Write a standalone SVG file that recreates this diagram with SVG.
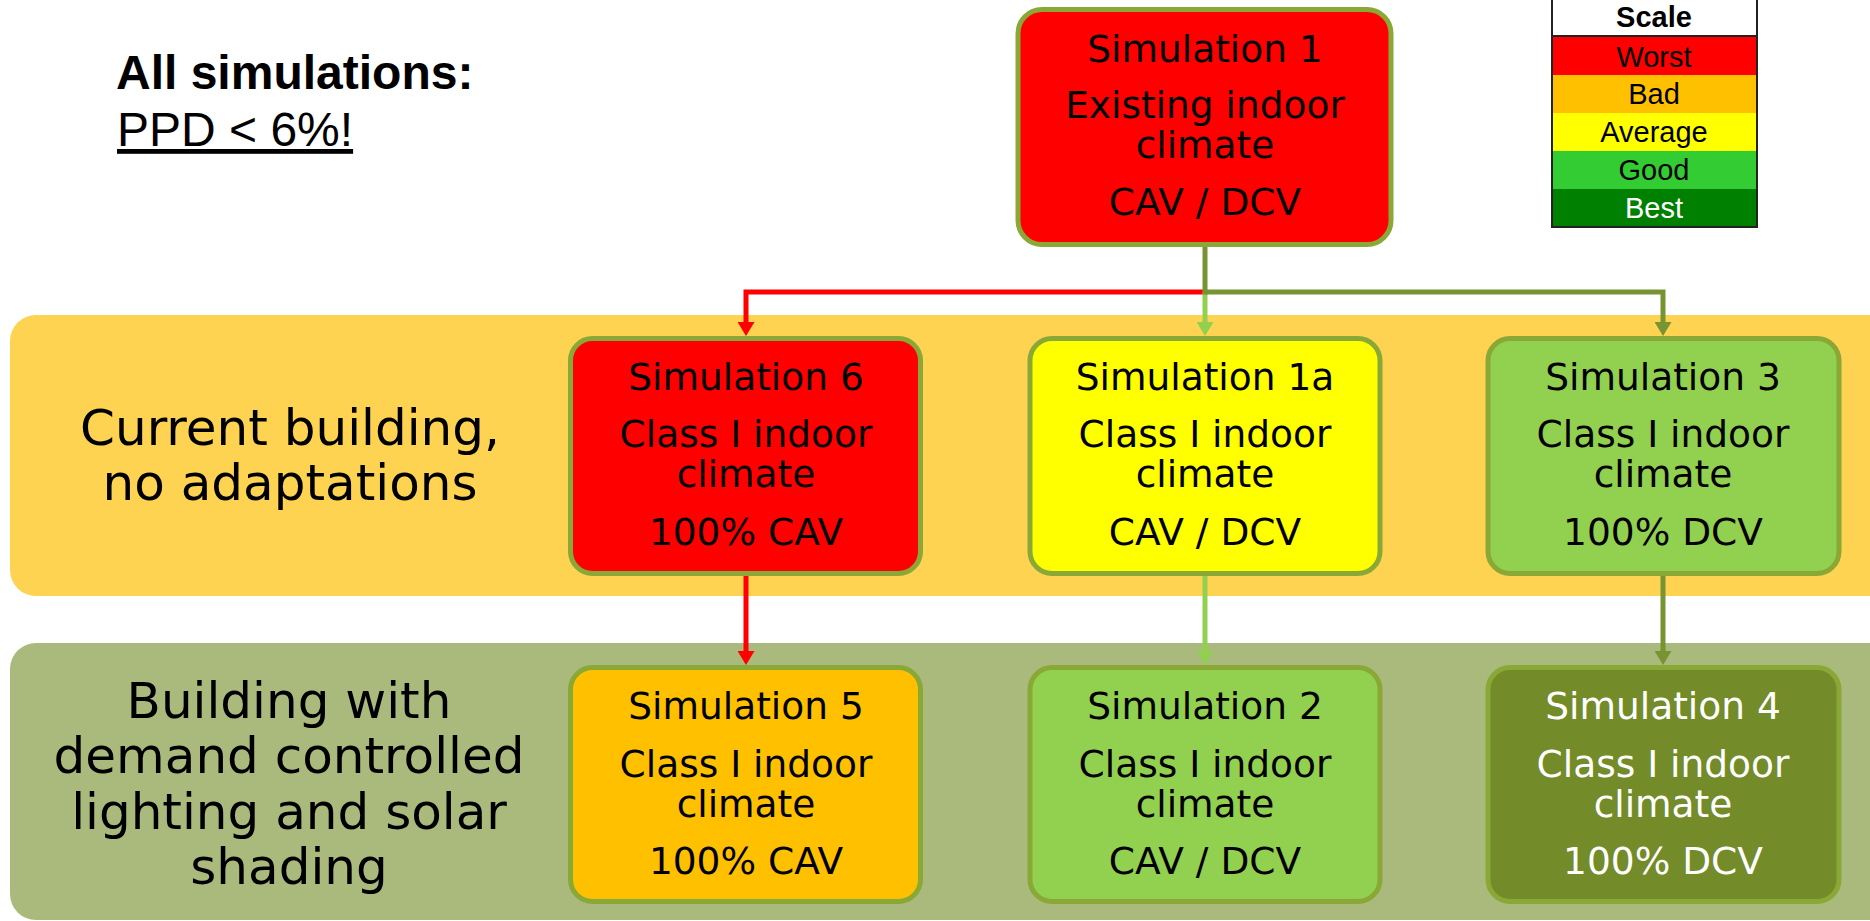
<svg xmlns="http://www.w3.org/2000/svg" width="1870" height="921" viewBox="0 0 1870 921">
  <style>
    .band-top { fill: #FED351; }
    .band-bottom { fill: #AABA7D; }
    .box { stroke: #89A836; stroke-width: 5; }
    .t { font-family: "DejaVu Sans", Verdana, sans-serif; font-size: 37.5px; text-anchor: middle; fill: #000; }
    .t.light { fill: #FFFFFF; }
    .row-label { font-family: "DejaVu Sans", Verdana, sans-serif; font-size: 50px; text-anchor: middle; fill: #000; }
    .note { font-family: "Liberation Sans", Arial, sans-serif; font-size: 48px; fill: #000; }
    .legend-head { fill: #FFFFFF; stroke: #222; stroke-width: 2; }
    .legend-frame { fill: none; stroke: #222; stroke-width: 2; }
    .legend-text { font-family: "Liberation Sans", Arial, sans-serif; font-size: 29px; text-anchor: middle; fill: #000; }
    .legend-text.light { fill: #FFFFFF; }
    .conn { fill: none; stroke-width: 5; }
  </style>
  <defs>
    <marker id="arrow-red" markerUnits="userSpaceOnUse" markerWidth="14" markerHeight="17" refX="0" refY="8.5" orient="auto">
      <path d="M0,0 L14,8.5 L0,17 Z" fill="#FF0000"/>
    </marker>
    <marker id="arrow-light" markerUnits="userSpaceOnUse" markerWidth="14" markerHeight="17" refX="0" refY="8.5" orient="auto">
      <path d="M0,0 L14,8.5 L0,17 Z" fill="#92D050"/>
    </marker>
    <marker id="arrow-olive" markerUnits="userSpaceOnUse" markerWidth="14" markerHeight="17" refX="0" refY="8.5" orient="auto">
      <path d="M0,0 L14,8.5 L0,17 Z" fill="#779332"/>
    </marker>
  </defs>

  <rect width="1870" height="921" fill="#FFFFFF"/>

  <!-- Background bands for the two building variants -->
  <g id="band-current">
    <rect class="band-top" x="10" y="315" width="1885" height="281" rx="26" ry="26"/>
    <text class="row-label" x="290" y="445">Current building,</text>
    <text class="row-label" x="290" y="500">no adaptations</text>
  </g>
  <g id="band-adapted">
    <rect class="band-bottom" x="10" y="643" width="1885" height="277" rx="26" ry="26"/>
    <text class="row-label" x="289" y="718">Building with</text>
    <text class="row-label" x="289" y="773">demand controlled</text>
    <text class="row-label" x="289" y="829">lighting and solar</text>
    <text class="row-label" x="289" y="884">shading</text>
  </g>

  <!-- Requirement note -->
  <g id="note">
    <text class="note" x="116" y="89" font-weight="bold">All simulations:</text>
    <text class="note" x="117" y="146" text-decoration="underline">PPD &lt; 6%!</text>
  </g>

  <!-- Legend -->
  <g id="legend">
    <rect x="1552" y="36" width="205" height="39" fill="#FF0000"/>
    <rect x="1552" y="75" width="205" height="38" fill="#FFC000"/>
    <rect x="1552" y="113" width="205" height="38" fill="#FFFF00"/>
    <rect x="1552" y="151" width="205" height="38" fill="#33CC33"/>
    <rect x="1552" y="189" width="205" height="38" fill="#008000"/>
    <rect class="legend-head" x="1552" y="-2" width="205" height="38"/>
    <rect class="legend-frame" x="1552" y="-2" width="205" height="229"/>
    <text class="legend-text" x="1654" y="27" font-weight="bold">Scale</text>
    <text class="legend-text" x="1654" y="67">Worst</text>
    <text class="legend-text" x="1654" y="104">Bad</text>
    <text class="legend-text" x="1654" y="142">Average</text>
    <text class="legend-text" x="1654" y="180">Good</text>
    <text class="legend-text light" x="1654" y="218">Best</text>
  </g>

  <!-- Connectors -->
  <g id="connectors">
    <path class="conn" stroke="#FF0000" d="M1205,292 H746 V322" marker-end="url(#arrow-red)"/>
    <path class="conn" stroke="#92D050" d="M1205,292 V322" marker-end="url(#arrow-light)"/>
    <path class="conn" stroke="#779332" d="M1205,292 H1663 V322" marker-end="url(#arrow-olive)"/>
    <path class="conn" stroke="#779332" d="M1205,245 V294.5"/>
    <path class="conn" stroke="#FF0000" d="M746,574 V651" marker-end="url(#arrow-red)"/>
    <path class="conn" stroke="#92D050" d="M1205,574 V651" marker-end="url(#arrow-light)"/>
    <path class="conn" stroke="#779332" d="M1663,574 V651" marker-end="url(#arrow-olive)"/>
  </g>

  <!-- Simulation nodes -->
  <g id="sim1">
    <rect class="box" x="1018" y="9.5" width="373" height="235" rx="24" fill="#FF0000"/>
    <text class="t" x="1205" y="62">Simulation 1</text>
    <text class="t" x="1205" y="118">Existing indoor</text>
    <text class="t" x="1205" y="158">climate</text>
    <text class="t" x="1205" y="215">CAV / DCV</text>
  </g>
  <g id="sim6">
    <rect class="box" x="570.5" y="338.5" width="350" height="235" rx="22" fill="#FF0000"/>
    <text class="t" x="746" y="390">Simulation 6</text>
    <text class="t" x="746" y="447">Class I indoor</text>
    <text class="t" x="746" y="487">climate</text>
    <text class="t" x="746" y="545">100% CAV</text>
  </g>
  <g id="sim1a">
    <rect class="box" x="1030" y="338.5" width="350" height="235" rx="22" fill="#FFFF00"/>
    <text class="t" x="1205" y="390">Simulation 1a</text>
    <text class="t" x="1205" y="447">Class I indoor</text>
    <text class="t" x="1205" y="487">climate</text>
    <text class="t" x="1205" y="545">CAV / DCV</text>
  </g>
  <g id="sim3">
    <rect class="box" x="1488" y="338.5" width="351" height="235" rx="22" fill="#92D050"/>
    <text class="t" x="1663" y="390">Simulation 3</text>
    <text class="t" x="1663" y="447">Class I indoor</text>
    <text class="t" x="1663" y="487">climate</text>
    <text class="t" x="1663" y="545">100% DCV</text>
  </g>
  <g id="sim5">
    <rect class="box" x="570.5" y="667.5" width="350" height="234" rx="22" fill="#FFC000"/>
    <text class="t" x="746" y="719">Simulation 5</text>
    <text class="t" x="746" y="777">Class I indoor</text>
    <text class="t" x="746" y="817">climate</text>
    <text class="t" x="746" y="874">100% CAV</text>
  </g>
  <g id="sim2">
    <rect class="box" x="1030" y="667.5" width="350" height="234" rx="22" fill="#92D050"/>
    <text class="t" x="1205" y="719">Simulation 2</text>
    <text class="t" x="1205" y="777">Class I indoor</text>
    <text class="t" x="1205" y="817">climate</text>
    <text class="t" x="1205" y="874">CAV / DCV</text>
  </g>
  <g id="sim4">
    <rect class="box" x="1488" y="667.5" width="351" height="234" rx="22" fill="#738B28"/>
    <text class="t light" x="1663" y="719">Simulation 4</text>
    <text class="t light" x="1663" y="777">Class I indoor</text>
    <text class="t light" x="1663" y="817">climate</text>
    <text class="t light" x="1663" y="874">100% DCV</text>
  </g>
</svg>
